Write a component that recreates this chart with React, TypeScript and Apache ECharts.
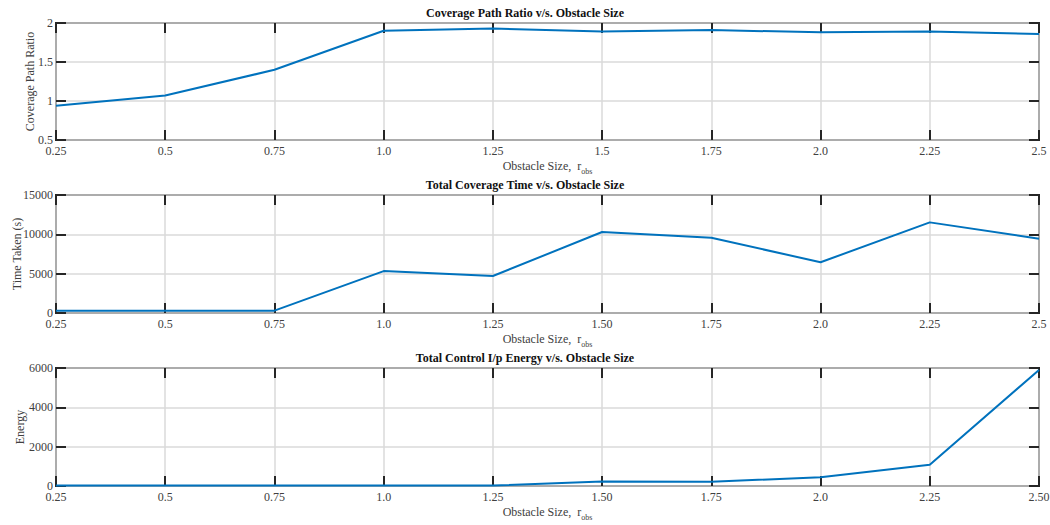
import React, { useEffect, useRef } from "react";
import * as echarts from "echarts";

const xLabels1 = ["0.25", "0.5", "0.75", "1.0", "1.25", "1.5", "1.75", "2.0", "2.25", "2.5"];
const xLabels2 = ["0.25", "0.5", "0.75", "1.0", "1.25", "1.50", "1.75", "2.0", "2.25", "2.5"];
const xLabels3 = ["0.25", "0.5", "0.75", "1.0", "1.25", "1.50", "1.75", "2.0", "2.25", "2.50"];

const coverageRatio = [0.94, 1.07, 1.4, 1.9, 1.93, 1.89, 1.91, 1.88, 1.89, 1.86];
const coverageTime = [300, 300, 300, 5330, 4700, 10300, 9570, 6450, 11520, 9450];
const controlEnergy = [20, 20, 20, 20, 20, 230, 210, 450, 1080, 5900];

const titles = [
  "Coverage Path Ratio v/s. Obstacle Size",
  "Total Coverage Time v/s. Obstacle Size",
  "Total Control I/p Energy v/s. Obstacle Size",
];
const yNames = ["Coverage Path Ratio", "Time Taken (s)", "Energy"];
const yRanges = [
  { min: 0.5, max: 2, interval: 0.5 },
  { min: 0, max: 15000, interval: 5000 },
  { min: 0, max: 6000, interval: 2000 },
];

const FONT = "'Liberation Serif', 'DejaVu Serif', serif";
const DARK = "#262626";
const TXT = "#404040";

export default function App() {
  const ref = useRef<HTMLDivElement>(null);
  useEffect(() => {
    if (!ref.current) return;
    const chart = echarts.init(ref.current, undefined, { renderer: "svg" });
    const tops = [23, 195, 368];
    const heights = [117, 118, 118];
    const xLabelSets = [xLabels1, xLabels2, xLabels3];
    const datas = [coverageRatio, coverageTime, controlEnergy];
    const yNameGaps = [20, 33, 30];

    const grid: any[] = [];
    const xAxis: any[] = [];
    const yAxis: any[] = [];
    const series: any[] = [];
    const title: any[] = [];
    const tick = { show: true, inside: true, length: 10, lineStyle: { color: DARK, width: 2 } };
    const noLine = { show: false, onZero: false };

    for (let i = 0; i < 3; i++) {
      grid.push({
        left: 56,
        right: 11,
        top: tops[i],
        height: heights[i],
        containLabel: false,
        outerBoundsMode: "none",
        show: true,
        borderColor: DARK,
        borderWidth: 2,
        backgroundColor: "#fff",
      });
      title.push({
        text: titles[i],
        left: "center",
        top: tops[i] - 21,
        textStyle: { fontFamily: FONT, fontSize: 12, fontWeight: "bold", color: "#111" },
      });
      xAxis.push({
        type: "category",
        gridIndex: i,
        data: xLabelSets[i],
        boundaryGap: false,
        position: "bottom",
        axisLine: noLine,
        axisTick: tick,
        axisLabel: { color: TXT, fontFamily: FONT, fontSize: 12, margin: 5, hideOverlap: false },
        splitLine: { show: true, lineStyle: { color: "#dadada", width: 1.5 } },
        name: "{a|Obstacle Size,  r}{s|obs}",
        nameLocation: "middle",
        nameGap: 17,
        nameMoveOverlap: false,
        nameTextStyle: {
          rich: {
            a: { fontFamily: FONT, fontSize: 12, color: TXT },
            s: { fontFamily: FONT, fontSize: 8, color: TXT, padding: [10, 0, 0, 0] },
          },
        },
      });
      xAxis.push({
        type: "category",
        gridIndex: i,
        data: xLabelSets[i],
        boundaryGap: false,
        position: "top",
        axisLine: noLine,
        axisTick: tick,
        axisLabel: { show: false },
        splitLine: { show: false },
      });
      yAxis.push({
        type: "value",
        gridIndex: i,
        ...yRanges[i],
        position: "left",
        axisLine: noLine,
        axisTick: tick,
        axisLabel: {
          color: TXT,
          fontFamily: FONT,
          fontSize: 12,
          margin: 3,
          formatter: (v: number) => String(v),
        },
        splitLine: { show: true, lineStyle: { color: "#dadada", width: 1.5 } },
        name: yNames[i],
        nameLocation: "middle",
        nameGap: yNameGaps[i],
        nameMoveOverlap: false,
        nameTextStyle: { fontFamily: FONT, fontSize: 12, color: TXT },
      });
      yAxis.push({
        type: "value",
        gridIndex: i,
        ...yRanges[i],
        position: "right",
        axisLine: noLine,
        axisTick: tick,
        axisLabel: { show: false },
        splitLine: { show: false },
      });
      series.push({
        type: "line",
        xAxisIndex: i * 2,
        yAxisIndex: i * 2,
        data: datas[i],
        showSymbol: false,
        symbol: "none",
        lineStyle: { color: "#0072BD", width: 2 },
        z: 3,
      });
    }

    chart.setOption({
      animation: false,
      backgroundColor: "#fff",
      title,
      grid,
      xAxis,
      yAxis,
      series,
    });
    return () => chart.dispose();
  }, []);
  return (
    <div
      ref={ref}
      style={{ position: "fixed", left: 0, top: 0, width: 1050, height: 525 }}
    />
  );
}
